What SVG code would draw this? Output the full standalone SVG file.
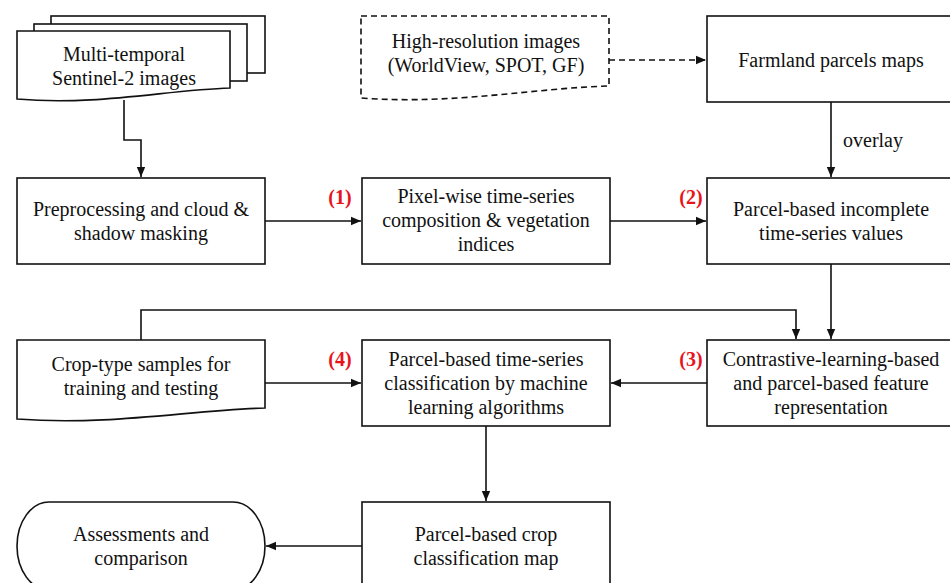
<svg xmlns="http://www.w3.org/2000/svg" width="950" height="583" viewBox="0 0 950 583">
  <style>
    .box { fill: #fff; stroke: #111; stroke-width: 1.6; }
    .dash { fill: #fff; stroke: #111; stroke-width: 1.6; stroke-dasharray: 6 4; }
    .lbl { font-family: 'Liberation Serif', serif; font-size: 20px; fill: #111; text-anchor: middle; }
    .num { font-family: 'Liberation Serif', serif; font-size: 20px; font-weight: bold; fill: #e8141b; text-anchor: middle; }
    .wire { fill: none; stroke: #111; stroke-width: 1.6; }
    .wire-dash { fill: none; stroke: #111; stroke-width: 1.6; stroke-dasharray: 6 4; }
  </style>
  <defs>
    <marker id="arrow" viewBox="0 0 10 10" refX="10" refY="5" markerWidth="10" markerHeight="10" markerUnits="userSpaceOnUse" orient="auto">
      <path d="M0,0.8 L10,5 L0,9.2 Z" fill="#111"/>
    </marker>
  </defs>

  <rect width="950" height="583" fill="#fff"/>

  <!-- Multi-temporal image stack -->
  <g id="sentinel">
    <rect class="box" x="51" y="16" width="214" height="57"/>
    <rect class="box" x="34" y="24" width="213" height="57"/>
    <path class="box" d="M17,31 H230 V88 C166,90 96,106 17,99 Z"/>
    <text class="lbl" x="124" y="61">Multi-temporal</text>
    <text class="lbl" x="124" y="85">Sentinel-2 images</text>
  </g>

  <!-- High-resolution imagery (dashed document) -->
  <g id="highres">
    <path class="dash" d="M361,16 H609 V86 C534,88 454,105 361,98 Z"/>
    <text class="lbl" x="486" y="48">High-resolution images</text>
    <text class="lbl" x="486" y="72">(WorldView, SPOT, GF)</text>
  </g>

  <g id="farmland">
    <rect class="box" x="707" y="16" width="248" height="86"/>
    <text class="lbl" x="831" y="67">Farmland parcels maps</text>
  </g>

  <g id="preprocess">
    <rect class="box" x="17" y="178" width="248" height="86"/>
    <text class="lbl" x="141" y="216">Preprocessing and cloud &amp;</text>
    <text class="lbl" x="141" y="240">shadow masking</text>
  </g>

  <g id="pixelwise">
    <rect class="box" x="362" y="178" width="248" height="86"/>
    <text class="lbl" x="486" y="203">Pixel-wise time-series</text>
    <text class="lbl" x="486" y="227">composition &amp; vegetation</text>
    <text class="lbl" x="486" y="251">indices</text>
  </g>

  <g id="incomplete">
    <rect class="box" x="707" y="178" width="248" height="86"/>
    <text class="lbl" x="831" y="216">Parcel-based incomplete</text>
    <text class="lbl" x="831" y="240">time-series values</text>
  </g>

  <g id="samples">
    <path class="box" d="M17,340 H265 V408 C190,410 110,426 17,419 Z"/>
    <text class="lbl" x="141" y="371">Crop-type samples for</text>
    <text class="lbl" x="141" y="395">training and testing</text>
  </g>

  <g id="classify">
    <rect class="box" x="362" y="340" width="248" height="86"/>
    <text class="lbl" x="486" y="366">Parcel-based time-series</text>
    <text class="lbl" x="486" y="390">classification by machine</text>
    <text class="lbl" x="486" y="414">learning algorithms</text>
  </g>

  <g id="contrastive">
    <rect class="box" x="707" y="340" width="248" height="86"/>
    <text class="lbl" x="831" y="366">Contrastive-learning-based</text>
    <text class="lbl" x="831" y="390">and parcel-based feature</text>
    <text class="lbl" x="831" y="414">representation</text>
  </g>

  <g id="assessment">
    <rect class="box" x="17" y="502" width="248" height="88" rx="32" ry="44"/>
    <text class="lbl" x="141" y="541">Assessments and</text>
    <text class="lbl" x="141" y="565">comparison</text>
  </g>

  <g id="cropmap">
    <rect class="box" x="362" y="502" width="248" height="88"/>
    <text class="lbl" x="486" y="541">Parcel-based crop</text>
    <text class="lbl" x="486" y="565">classification map</text>
  </g>

  <!-- Connectors -->
  <g id="connectors">
    <path class="wire" d="M124,100 V140 H141 V177" marker-end="url(#arrow)"/>
    <path class="wire-dash" d="M609,60 H706" marker-end="url(#arrow)"/>
    <path class="wire" d="M831,102 V177" marker-end="url(#arrow)"/>
    <path class="wire" d="M265,221 H361" marker-end="url(#arrow)"/>
    <path class="wire" d="M610,221 H706" marker-end="url(#arrow)"/>
    <path class="wire" d="M831,264 V339" marker-end="url(#arrow)"/>
    <path class="wire" d="M141,340 V310 H796 V339" marker-end="url(#arrow)"/>
    <path class="wire" d="M707,383 H611" marker-end="url(#arrow)"/>
    <path class="wire" d="M265,383 H361" marker-end="url(#arrow)"/>
    <path class="wire" d="M486,426 V501" marker-end="url(#arrow)"/>
    <path class="wire" d="M362,546 H266" marker-end="url(#arrow)"/>
    <text class="lbl" x="873" y="147">overlay</text>
    <text class="num" x="340" y="204">(1)</text>
    <text class="num" x="691" y="204">(2)</text>
    <text class="num" x="691" y="366">(3)</text>
    <text class="num" x="340" y="366">(4)</text>
  </g>
</svg>
